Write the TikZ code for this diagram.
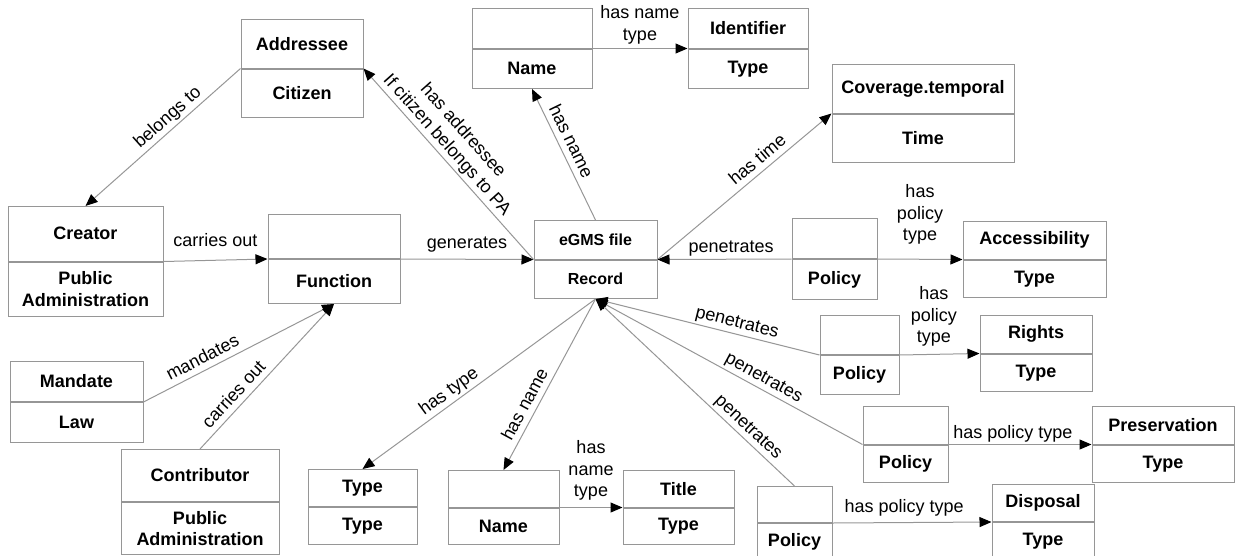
\documentclass[tikz,border=0pt]{standalone}
\usepackage{fontspec}
\setmainfont{Liberation Sans}
\usetikzlibrary{arrows.meta}
\definecolor{linegray}{RGB}{150,150,150}

\begin{document}
\begin{tikzpicture}[x=1pt, y=-1pt,
    every node/.style={font=\fontsize{18}{21.5}\selectfont},
    part/.style={draw=linegray, line width=1pt, inner sep=2pt, align=center,
      font=\fontsize{18}{21.5}\selectfont\bfseries},
    uppart/.style={part, anchor=south},
    lowpart/.style={part, anchor=north},
    link/.style={draw=linegray, line width=1pt,
      -{Triangle[length=12pt, width=10pt, black]}},
    lbl/.style={inner sep=2pt, align=center, text depth=4pt}]
  \useasboundingbox (0, 0) rectangle (1235, 555);

  % Addressee
  \node[uppart, minimum width=122pt, minimum height=48.5pt] (addr-t) at (302, 68.5) {Addressee};
  \node[lowpart, minimum width=122pt, minimum height=48.5pt] (addr-b) at (302, 68.5) {Citizen};
  % Creator
  \node[uppart, minimum width=155pt, minimum height=54.5pt] (creator-t) at (85.5, 261.5) {Creator};
  \node[lowpart, minimum width=155pt, minimum height=54.5pt] (creator-b) at (85.5, 261.5) {Public\\Administration};
  % Function
  \node[uppart, minimum width=132pt, minimum height=44pt] (func-t) at (334, 259) {};
  \node[lowpart, minimum width=132pt, minimum height=44pt] (func-b) at (334, 259) {Function};
  % Mandate
  \node[uppart, minimum width=133pt, minimum height=40pt] (mand-t) at (76.5, 402) {Mandate};
  \node[lowpart, minimum width=133pt, minimum height=40pt] (mand-b) at (76.5, 402) {Law};
  % Contributor
  \node[uppart, minimum width=158pt, minimum height=52pt] (contr-t) at (200, 502) {Contributor};
  \node[lowpart, minimum width=158pt, minimum height=52pt] (contr-b) at (200, 502) {Public\\Administration};

  % RECORD
  \node[uppart, minimum width=123pt, minimum height=38.5pt,
    font=\fontsize{16}{19}\selectfont\bfseries] (egms-t) at (595.5, 259.5) {eGMS file};
  \node[lowpart, minimum width=123pt, minimum height=38.5pt,
    font=\fontsize{16}{19}\selectfont\bfseries] (egms-b) at (595.5, 259.5) {Record};

  % Name / Identifier (top)
  \node[uppart, minimum width=120pt, minimum height=39.5pt] (namet-t) at (532, 48.5) {};
  \node[lowpart, minimum width=120pt, minimum height=39.5pt] (namet-b) at (532, 48.5) {Name};
  \node[uppart, minimum width=120pt, minimum height=39.5pt] (ident-t) at (748, 48.5) {Identifier};
  \node[lowpart, minimum width=120pt, minimum height=39.5pt] (ident-b) at (748, 48.5) {Type};
  % Coverage
  \node[uppart, minimum width=182pt, minimum height=48.5pt] (cov-t) at (923, 113.5) {Coverage.temporal};
  \node[lowpart, minimum width=182pt, minimum height=48.5pt] (cov-b) at (923, 113.5) {Time};

  % Policies
  \node[uppart, minimum width=85pt, minimum height=40pt] (pol1-t) at (834.5, 259) {};
  \node[lowpart, minimum width=85pt, minimum height=40pt] (pol1-b) at (834.5, 259) {Policy};
  \node[uppart, minimum width=143pt, minimum height=37.5pt] (acc-t) at (1034.5, 259.5) {Accessibility};
  \node[lowpart, minimum width=143pt, minimum height=37.5pt] (acc-b) at (1034.5, 259.5) {Type};
  \node[uppart, minimum width=79pt, minimum height=39pt] (pol2-t) at (859.5, 355) {};
  \node[lowpart, minimum width=79pt, minimum height=39pt] (pol2-b) at (859.5, 355) {Policy};
  \node[uppart, minimum width=112pt, minimum height=37.5pt] (rights-t) at (1036, 353.5) {Rights};
  \node[lowpart, minimum width=112pt, minimum height=37.5pt] (rights-b) at (1036, 353.5) {Type};
  \node[uppart, minimum width=85pt, minimum height=37.5pt] (pol3-t) at (905.5, 444.5) {};
  \node[lowpart, minimum width=85pt, minimum height=37.5pt] (pol3-b) at (905.5, 444.5) {Policy};
  \node[uppart, minimum width=142pt, minimum height=37.5pt] (pres-t) at (1163, 444.5) {Preservation};
  \node[lowpart, minimum width=142pt, minimum height=37.5pt] (pres-b) at (1163, 444.5) {Type};
  \node[uppart, minimum width=75pt, minimum height=36pt] (pol4-t) at (794.5, 523) {};
  \node[lowpart, minimum width=75pt, minimum height=36pt] (pol4-b) at (794.5, 523) {Policy};
  \node[uppart, minimum width=102pt, minimum height=37pt] (disp-t) at (1043, 522) {Disposal};
  \node[lowpart, minimum width=102pt, minimum height=37pt] (disp-b) at (1043, 522) {Type};

  % Type / Name / Title (bottom)
  \node[uppart, minimum width=109pt, minimum height=37pt] (typeb-t) at (362.5, 507) {Type};
  \node[lowpart, minimum width=109pt, minimum height=37pt] (typeb-b) at (362.5, 507) {Type};
  \node[uppart, minimum width=111pt, minimum height=36.5pt] (nameb-t) at (503.5, 507.5) {};
  \node[lowpart, minimum width=111pt, minimum height=36.5pt] (nameb-b) at (503.5, 507.5) {Name};
  \node[uppart, minimum width=111pt, minimum height=36.5pt] (title-t) at (678.5, 507.5) {Title};
  \node[lowpart, minimum width=111pt, minimum height=36.5pt] (title-b) at (678.5, 507.5) {Type};

  % Links on the left
  \draw[link] (addr-t.south west) -- node[lbl, sloped, above, pos=0.42] {belongs to} (creator-t.north);
  \draw[link] (creator-t.south east) -- node[lbl, above=7pt] {carries out} (func-t.south west);
  \draw[link] (mand-t.south east) -- node[lbl, sloped, above, pos=0.34] {mandates} (func-b.south);
  \draw[link] (contr-t.north) -- node[lbl, sloped, above, pos=0.32] {carries out} (func-b.south);
  \draw[link] (func-t.south east) -- node[lbl, above=4pt] {generates} (egms-t.south west);
  \draw[link] (egms-t.south west) -- node[lbl, sloped, above, pos=0.56]
    {has addressee\\If citizen belongs to PA} (addr-t.south east);

  % Links on the top
  \draw[link] (egms-t.north) -- node[lbl, sloped, above, pos=0.56] {has name} (namet-b.south);
  \draw[link] (namet-t.south east) -- node[lbl, above=2pt] {has name\\type} (ident-t.south west);
  \draw[link] (egms-t.south east) -- node[lbl, sloped, above, pos=0.62] {has time} (cov-t.south west);

  % Policy links
  \draw[link] (pol1-t.south west) -- node[lbl, above, pos=0.45] {penetrates} (egms-t.south east);
  \draw[link] (pol1-t.south east) -- node[lbl, above=12pt] {has\\policy\\type} (acc-t.south west);
  \draw[link] (pol2-t.south west) -- node[lbl, sloped, above, pos=0.38] {penetrates} (egms-b.south);
  \draw[link] (pol2-t.south east) -- node[lbl, above=5pt, pos=0.43] {has\\policy\\type} (rights-t.south west);
  \draw[link] (pol3-t.south west) -- node[lbl, sloped, above, pos=0.39] {penetrates} (egms-b.south);
  \draw[link] (pol3-t.south east) -- node[lbl, above, pos=0.45] {has policy type} (pres-t.south west);
  \draw[link] (pol4-t.north) -- node[lbl, sloped, above, pos=0.27] {penetrates} (egms-b.south);
  \draw[link] (pol4-t.south east) -- node[lbl, above=3.5pt, pos=0.45] {has policy type} (disp-t.south west);

  % Links on the bottom
  \draw[link] (egms-b.south) -- node[lbl, sloped, above, pos=0.6] {has type} (typeb-t.north);
  \draw[link] (egms-b.south) -- node[lbl, sloped, above, pos=0.65] {has name} (nameb-t.north);
  \draw[link] (nameb-t.south east) -- node[lbl, above=4.5pt] {has\\name\\type} (title-t.south west);
\end{tikzpicture}
\end{document}
